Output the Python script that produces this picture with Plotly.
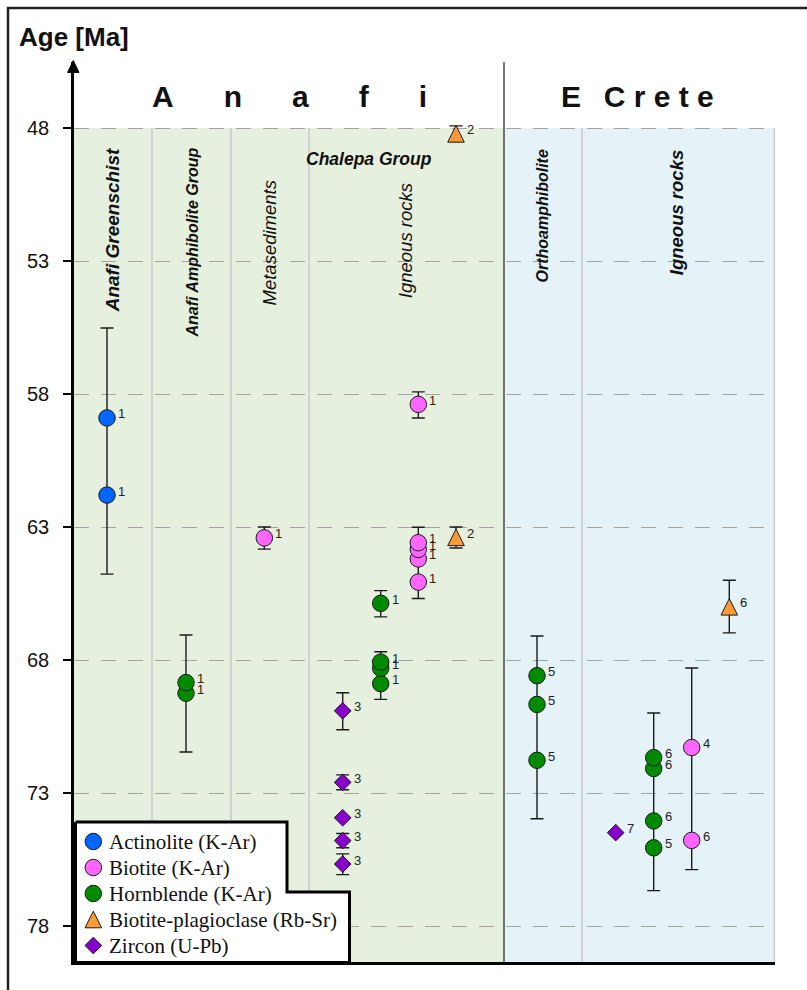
import plotly.graph_objects as go

# ---------------------------------------------------------------------------
# Geochronological data (ages in Ma).
# x = position along the section, in px measured from the age axis.
# ---------------------------------------------------------------------------
act_x = [33, 33]
act_age = [61.80, 58.90]
act_ref = ["1", "1"]

bt_x = [190.3, 344.3, 344.3, 344.3, 344.3, 344.3, 617.7, 617.7]
bt_age = [63.41, 65.07, 64.20, 63.84, 63.59, 58.39, 74.78, 71.29]
bt_ref = ["1", "1", "1", "1", "1", "1", "6", "4"]

hbl_x = [112, 112, 306.7, 306.7, 306.7, 306.7, 463, 463, 463,
         579.7, 579.7, 579.7, 579.7]
hbl_age = [69.25, 68.85, 65.87, 68.89, 68.31, 68.08, 71.77, 69.67, 68.59,
           75.06, 74.05, 72.08, 71.67]
hbl_ref = ["1", "1", "1", "1", "1", "1", "5", "5", "5", "5", "6", "6", "6"]

rbsr_x = [382, 382, 655.3]
rbsr_age = [48.22, 63.39, 66.00]
rbsr_ref = ["2", "2", "6"]

zrn_x = [268.7, 268.7, 268.7, 268.7, 268.7, 541.7]
zrn_age = [69.91, 72.60, 73.93, 74.79, 75.67, 74.49]
zrn_ref = ["3", "3", "3", "3", "3", "7"]

# Age uncertainty ranges (young end, old end)
whisker_x = [33, 112, 190.3, 268.7, 268.7, 268.7, 268.7, 306.7, 306.7,
             344.3, 344.3, 382, 382, 463, 579.7, 617.7, 655.3]
whisker_young = [55.52, 67.06, 63.00, 69.23, 72.32, 74.52, 75.29, 65.39, 67.69,
                 57.92, 63.01, 47.92, 63.00, 67.10, 69.99, 68.30, 65.00]
whisker_old = [64.77, 71.46, 63.83, 70.62, 72.88, 75.06, 76.07, 66.38, 69.48,
               58.90, 65.69, 48.51, 63.79, 73.97, 76.67, 75.88, 66.98]

# Section columns (boundaries along x) and age ticks
anafi_span = [0, 430]
crete_span = [430, 701]
column_edges = [78, 157, 235, 508, 700.4]
age_ticks = [48, 53, 58, 63, 68, 73, 78]

series_names = ["Actinolite (K-Ar)", "Biotite (K-Ar)", "Hornblende (K-Ar)",
                "Biotite-plagioclase (Rb-Sr)", "Zircon (U-Pb)"]
series_colors = ["#0066ff", "#ff66ff", "#008a00", "#ff9933", "#8800cc"]

# ---------------------------------------------------------------------------
# Page geometry
# ---------------------------------------------------------------------------
W, H = 807, 990
PL, PR, PT, PB = 74, 775, 62, 962          # plot-area edges in px
AGE_TOP, AGE_BOTTOM = 45.519, 79.353       # age range of the plot area


def xp(px):
    return (px - PL) / (PR - PL)


def yp(py):
    return (PB - py) / (PB - PT)


SANS = "Liberation Sans, Arial, sans-serif"
SERIF = "Liberation Serif, Times New Roman, serif"
INK = "#111111"


def marker_style(kind, color):
    base = dict(color=color, opacity=1, line=dict(color="#1a1a1a", width=1))
    if kind == "circle":
        base.update(symbol="circle", size=16.5)
    elif kind == "diamond":
        base.update(symbol="diamond", size=12.8)
    else:  # upward triangle centred on the point
        base.update(symbol="arrow-down", size=16.6, angle=180, standoff=8.3)
    return base


series = [
    (series_names[0], act_x, act_age, act_ref, series_colors[0], "circle"),
    (series_names[1], bt_x, bt_age, bt_ref, series_colors[1], "circle"),
    (series_names[2], hbl_x, hbl_age, hbl_ref, series_colors[2], "circle"),
    (series_names[3], rbsr_x, rbsr_age, rbsr_ref, series_colors[3], "triangle"),
    (series_names[4], zrn_x, zrn_age, zrn_ref, series_colors[4], "diamond"),
]

fig = go.Figure()

# Uncertainty bars, underneath all symbols
fig.add_trace(go.Scatter(
    x=whisker_x, y=whisker_young, mode="markers",
    marker=dict(size=0, opacity=0),
    error_y=dict(type="data", symmetric=False,
                 array=[o - y for o, y in zip(whisker_old, whisker_young)],
                 arrayminus=[0] * len(whisker_young),
                 width=6.5, thickness=1.4, color="#1a1a1a"),
    hoverinfo="skip", showlegend=False,
))

annotations = []
for name, xs, ages, refs, color, kind in series:
    fig.add_trace(go.Scatter(
        x=xs, y=ages, mode="markers", name=name,
        marker=marker_style(kind, color), showlegend=False,
    ))
    for x, a, r in zip(xs, ages, refs):
        annotations.append(dict(
            x=x, y=a, xref="x", yref="y", text=r, showarrow=False,
            xanchor="left", yanchor="middle", xshift=9, yshift=4,
            font=dict(family=SANS, size=13, color="#222222"),
        ))

# Legend: stepped white box with a heavy border, on a pixel-frame overlay axis
box_x = [75.5, 287, 287, 349.5, 349.5, 75.5, 75.5]
box_y = [822, 822, 892, 892, 962.5, 962.5, 822]
fig.add_trace(go.Scatter(
    x=[v - PL for v in box_x], y=box_y, yaxis="y2", mode="lines",
    fill="toself", fillcolor="white", line=dict(color="black", width=3),
    hoverinfo="skip", showlegend=False,
))
legend_rows = [841.5 + 26 * i for i in range(len(series))]
fig.add_trace(go.Scatter(
    x=[93.3 - PL] * len(series), y=legend_rows, yaxis="y2", mode="markers",
    marker=dict(
        symbol=["circle", "circle", "circle", "arrow-down", "diamond"],
        size=[16.5, 16.5, 16.5, 16.6, 12.8],
        angle=[0, 0, 0, 180, 0],
        standoff=[0, 0, 0, 8.3, 0],
        opacity=1,
        color=series_colors, line=dict(color="#1a1a1a", width=1),
    ),
    hoverinfo="skip", showlegend=False,
))
for name, row in zip(series_names, legend_rows):
    annotations.append(dict(
        x=xp(107), y=yp(row), xref="paper", yref="paper", text=name,
        showarrow=False, xanchor="left", yanchor="middle",
        font=dict(family=SERIF, size=21, color=INK),
    ))

# Shapes: region shading, column dividers, frame, axis arrow
shapes = [
    dict(type="rect", xref="x", yref="y", x0=anafi_span[0], x1=anafi_span[1],
         y0=age_ticks[0], y1=AGE_BOTTOM, fillcolor="#e6f0df",
         line=dict(width=0), layer="below"),
    dict(type="rect", xref="x", yref="y", x0=crete_span[0], x1=crete_span[1],
         y0=age_ticks[0], y1=AGE_BOTTOM, fillcolor="#e5f3f8",
         line=dict(width=0), layer="below"),
]
for cx in column_edges:
    shapes.append(dict(type="line", xref="x", yref="y", x0=cx, x1=cx,
                       y0=age_ticks[0], y1=AGE_BOTTOM,
                       line=dict(color="#c8c8c8", width=1.5), layer="below"))
shapes.append(dict(type="line", xref="x", yref="y", x0=anafi_span[1], x1=anafi_span[1],
                   y0=AGE_TOP, y1=AGE_BOTTOM,
                   line=dict(color="#4a4a4a", width=1.5), layer="below"))

shapes.append(dict(type="rect", xref="paper", yref="paper",
                   x0=xp(8), x1=xp(840), y0=yp(1020), y1=yp(8),
                   line=dict(color="#222222", width=2.5), fillcolor="rgba(0,0,0,0)"))
arrow_path = (f"M{xp(73.3)},{yp(60.5)} L{xp(67.6)},{yp(72.5)} "
              f"L{xp(79.0)},{yp(72.5)} Z")
shapes.append(dict(type="path", xref="paper", yref="paper", path=arrow_path,
                   fillcolor="black", line=dict(color="black", width=1)))

# Titles and column headings
annotations += [
    dict(x=xp(17), y=yp(37), xref="paper", yref="paper", text="<b>Age [Ma]</b>",
         showarrow=False, xanchor="left", yanchor="middle",
         font=dict(family=SANS, size=26, color=INK)),
    dict(x=xp(289), y=yp(97), xref="paper", yref="paper",
         text="<b>" + ("\u00a0" * 6).join("Anafi") + "</b>",
         showarrow=False, xanchor="center", yanchor="middle",
         font=dict(family=SANS, size=30, color=INK)),
    dict(x=xp(637), y=yp(97), xref="paper", yref="paper",
         text="<b>E\u00a0\u00a0\u2009" + "\u00a0".join("Crete") + "</b>",
         showarrow=False, xanchor="center", yanchor="middle",
         font=dict(family=SANS, size=30, color=INK)),
    dict(x=xp(368.5), y=yp(159), xref="paper", yref="paper",
         text="<b><i>Chalepa Group</i></b>", showarrow=False,
         xanchor="center", yanchor="middle",
         font=dict(family=SANS, size=17.5, color=INK)),
]
rotated_labels = [
    ("<b><i>Anafi Greenschist</i></b>", 112.3, 146, 19),
    ("<b><i>Anafi Amphibolite Group</i></b>", 191.5, 146, 16),
    ("<i>Metasediments</i>", 269, 179, 18.5),
    ("<i>Igneous rocks</i>", 405.7, 181, 18.5),
    ("<b><i>Orthoamphibolite</i></b>", 542, 148, 16),
    ("<b><i>Igneous rocks</i></b>", 676.7, 148, 18.5),
]
for text, px, top, size in rotated_labels:
    annotations.append(dict(
        x=xp(px), y=yp(top), xref="paper", yref="paper", text=text,
        textangle=-90, showarrow=False, xanchor="center", yanchor="top",
        font=dict(family=SANS, size=size, color=INK),
    ))

fig.update_layout(
    width=W, height=H, autosize=False,
    margin=dict(l=PL, r=W - PR, t=PT, b=H - PB, pad=0),
    paper_bgcolor="white", plot_bgcolor="white",
    showlegend=False,
    xaxis=dict(range=[0, PR - PL], showgrid=False, zeroline=False,
               showticklabels=False, ticks="", showline=True,
               linecolor="black", linewidth=2.5, fixedrange=True),
    yaxis=dict(range=[AGE_BOTTOM, AGE_TOP], tickvals=age_ticks,
               ticktext=[str(t) for t in age_ticks],
               ticks="outside", ticklen=8, tickwidth=2, tickcolor="black",
               showline=True, linecolor="black", linewidth=2.5,
               showgrid=True, gridcolor="#a3a3a3", gridwidth=1.4,
               griddash="15px,12px", zeroline=False, ticklabelstandoff=10,
               tickfont=dict(family=SANS, size=20, color=INK), fixedrange=True),
    yaxis2=dict(overlaying="y", range=[PB, PT], visible=False, fixedrange=True),
    shapes=shapes,
    annotations=annotations,
)

fig.write_html("out.html")
